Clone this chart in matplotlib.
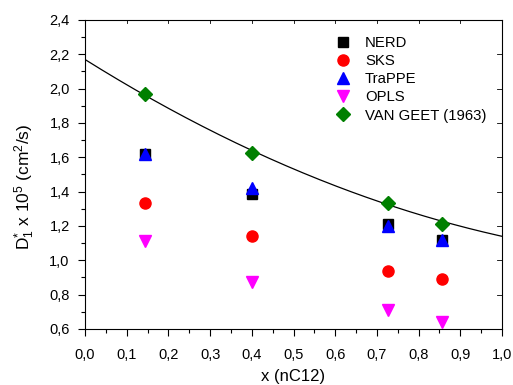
import numpy as np
import matplotlib
matplotlib.use("Agg")
import matplotlib.pyplot as plt
from matplotlib.ticker import MultipleLocator, FuncFormatter

plt.rcParams['font.family'] = ['Liberation Sans', 'DejaVu Sans']
plt.rcParams['mathtext.fontset'] = 'custom'
plt.rcParams['mathtext.rm'] = 'Liberation Sans'
plt.rcParams['mathtext.it'] = 'Liberation Sans'

x = [0.143, 0.400, 0.727, 0.857]
nerd = [1.62, 1.385, 1.21, 1.12]
sks = [1.336, 1.144, 0.94, 0.889]
trappe = [1.62, 1.42, 1.20, 1.12]
opls = [1.11, 0.874, 0.713, 0.643]
vangeet = [1.967, 1.627, 1.335, 1.214]
fit_coeffs = [0.49, -1.52, 2.17]  # quadratic fit of experimental data

fig = plt.figure(figsize=(5.13, 3.85), dpi=100)
ax = fig.add_axes([85/513, 1-329/385, (502-85)/513, (329-20)/385])

xs = np.linspace(0, 1, 200)
ax.plot(xs, np.polyval(fit_coeffs, xs), color='black', lw=0.9, zorder=2)

ax.plot(x, nerd, ls='none', marker='s', ms=7, color='black', label='NERD', zorder=3)
ax.plot(x, sks, ls='none', marker='o', ms=8, color='red', label='SKS', zorder=3)
ax.plot(x, trappe, ls='none', marker='^', ms=8.5, color='blue', label='TraPPE', zorder=4)
ax.plot(x, opls, ls='none', marker='v', ms=8.5, color='magenta', label='OPLS', zorder=3)
ax.plot(x, vangeet, ls='none', marker='D', ms=7.5, color='green', label='VAN GEET (1963)', zorder=5)

ax.set_xlim(0, 1.0)
ax.set_ylim(0.6, 2.4)
ax.xaxis.set_major_locator(MultipleLocator(0.1))
ax.xaxis.set_minor_locator(MultipleLocator(0.05))
ax.yaxis.set_major_locator(MultipleLocator(0.2))
ax.yaxis.set_minor_locator(MultipleLocator(0.1))
fmt = FuncFormatter(lambda v, p: f"{v:.1f}".replace('.', ','))
ax.xaxis.set_major_formatter(fmt)
ax.yaxis.set_major_formatter(fmt)
ax.tick_params(which='both', direction='out', labelsize=10.5, width=0.8)
ax.tick_params(which='major', length=5)
ax.tick_params(axis='x', which='major', pad=9)
ax.tick_params(axis='y', which='major', pad=6)
ax.tick_params(which='minor', length=3)

# inward ticks on top and right
for v in np.arange(0.1, 1.0, 0.1):
    ax.plot([v, v], [2.4, 2.4 - 0.02], color='black', lw=0.6, clip_on=False)
for v in np.arange(0.8, 2.4, 0.2):
    ax.plot([1.0, 1.0 - 0.012], [v, v], color='black', lw=0.6, clip_on=False)

for s in ax.spines.values():
    s.set_linewidth(0.8)

ax.set_xlabel('x (nC12)', fontsize=12, labelpad=5)
ax.set_ylabel(r'D$_1^{*}$ x 10$^5$ (cm$^2$/s)', fontsize=12.5)
ax.yaxis.set_label_coords(-0.114, 0.46)

leg = fig.legend(*ax.get_legend_handles_labels(), loc='upper left',
                 bbox_to_anchor=(334/513, 1-36/385), frameon=False,
                 fontsize=10.7, handlelength=1.2, handletextpad=0.89,
                 labelspacing=0.28, borderaxespad=0, borderpad=0)

fig.savefig('out.png', dpi=100)
